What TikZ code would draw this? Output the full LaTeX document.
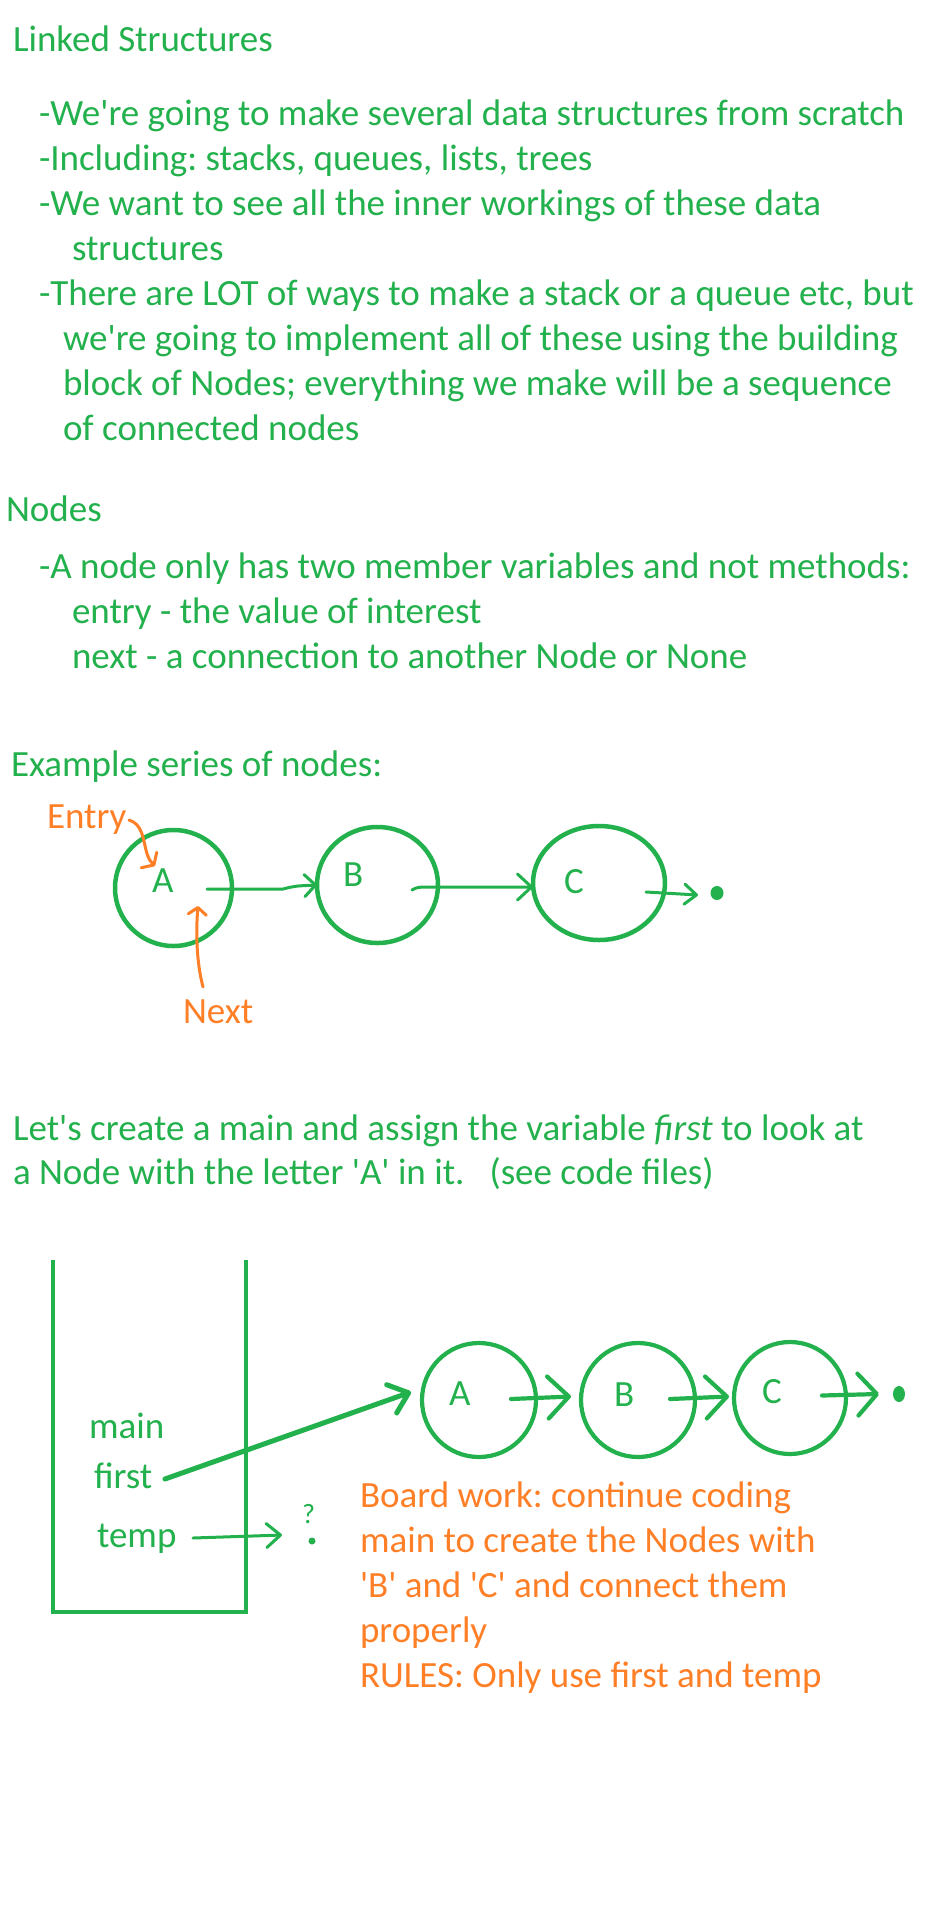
\documentclass[tikz,border=0pt]{standalone}
\usepackage{fontspec}
\setmainfont{Carlito}[Ligatures=TeXOff]
\usetikzlibrary{arrows.meta,shapes.geometric,calc}
\definecolor{pgreen}{RGB}{34,177,76}
\definecolor{porange}{RGB}{255,127,39}
\frenchspacing
\begin{document}
\begin{tikzpicture}[x=1pt,y=-1pt,
  txt/.style={anchor=base west,inner sep=0pt,outer sep=0pt,text=pgreen,font=\fontsize{37}{45}\selectfont},
  otxt/.style={txt,text=porange},
  smalltxt/.style={txt,font=\fontsize{28}{30}\selectfont},
  bubble/.style={draw=pgreen,ellipse,inner sep=0pt,outer sep=0pt,line width=4.5pt},
  bubbletwo/.style={draw=pgreen,ellipse,inner sep=0pt,outer sep=0pt,line width=4.2pt},
  blob/.style={fill=pgreen,ellipse,inner sep=0pt,outer sep=0pt},
  thinlink/.style={draw=pgreen,line width=3pt,line cap=round,line join=round},
  orangelink/.style={draw=porange,line width=3pt,line cap=round,line join=round},
  boldlink/.style={draw=pgreen,line width=4.2pt,line cap=round,line join=round},
  firstlink/.style={draw=pgreen,line width=5pt,line cap=round,line join=round},
  framebox/.style={draw=pgreen,line width=4.5pt}]
\fill[white] (0,0) rectangle (928,1928);
\useasboundingbox (0,0) rectangle (928,1928);

% ---- top text ----
\node[txt] (t1) at (13,51) {Linked Structures};
\node[txt] (t2) at (39,125) {-We're going to make several data structures from scratch};
\node[txt] (t3) at (39,170) {-Including: stacks, queues, lists, trees};
\node[txt] (t4) at (39,215) {-We want to see all the inner workings of these data};
\node[txt] (t5) at (72,260) {structures};
\node[txt] (t6) at (39,305) {-There are LOT of ways to make a stack or a queue etc, but};
\node[txt] (t7) at (63,350) {we're going to implement all of these using the building};
\node[txt] (t8) at (63,395) {block of Nodes; everything we make will be a sequence};
\node[txt] (t9) at (63,440) {of connected nodes};

\node[txt] (n1) at (6,521) {Nodes};
\node[txt] (n2) at (39,578) {-A node only has two member variables and not methods:};
\node[txt] (n3) at (72,623) {entry - the value of interest};
\node[txt] (n4) at (72,668) {next - a connection to another Node or None};

% ---- example ----
\node[txt] (ex) at (11,776) {Example series of nodes:};
\node[otxt] (entry) at (47,828) {Entry};
\node[otxt] (next) at (183,1023) {Next};

\node[bubble,minimum width=117pt,minimum height=116pt] (eA) at (173.5,888) {};
\node[bubble,minimum width=121pt,minimum height=116pt] (eB) at (377.5,885) {};
\node[bubble,minimum width=132pt,minimum height=114pt] (eC) at (599,883) {};
\node[txt] (lA) at (152,892) {A};
\node[txt] (lB) at (343,886) {B};
\node[txt] (lC) at (564,893) {C};
\node[blob,minimum width=13pt,minimum height=14pt] (dot1) at (717,893) {};

\draw[thinlink,-{Straight Barb[length=11pt,width=22pt,round]}]
  ($(eA.center)+(33.5,1)$) -- ($(eA.center)+(109.5,1)$) .. controls ($(eB.west)+(-22,1)$) .. (eB.west);
\draw[thinlink,-{Straight Barb[length=14pt,width=26pt,round]}]
  ($(eB.center)+(34.5,5)$) .. controls ($(eB.center)+(40,2)$) .. ($(eB.center)+(56,2)$) -- ($(eC.west)+(0,4)$);
\draw[thinlink,-{Straight Barb[length=12pt,width=20pt,round]}]
  ($(eC.center)+(47,9)$) -- ($(dot1.west)+(-12.5,2)$);

\coordinate (entryStart) at (129,820);
\coordinate (entryTip) at (155,866);
\draw[orangelink,-{Straight Barb[length=7pt,width=22pt,round]}]
  (entryStart) .. controls (142,824) and (143,838) .. (146,850) .. controls (148,858) and (150,861) .. (entryTip);
\coordinate (nextStart) at (203,987);
\coordinate (nextTip) at (198,906);
\draw[orangelink,-{Straight Barb[length=7pt,width=18pt,round]}]
  (nextStart) .. controls (196,960) and (196,930) .. (nextTip);

% ---- bottom section ----
\node[txt] (b1) at (13,1140) {Let's create a main and assign the variable \textit{first} to look at};
\node[txt] (b2) at (13,1184) {a Node with the letter 'A' in it.\ \ \ (see code files)};

\draw[framebox] (53,1260) -- (53,1612) -- (246,1612) -- (246,1260);
\node[txt] (vmain) at (89,1438) {main};
\node[txt] (vfirst) at (94,1488) {first};
\node[txt] (vtemp) at (97,1547) {temp};

\node[bubbletwo,minimum size=114pt] (fA) at (479,1400) {};
\node[bubbletwo,minimum size=114pt] (fB) at (638,1400) {};
\node[bubbletwo,minimum size=112pt] (fC) at (790,1398) {};
\node[txt] (mA) at (449,1405) {A};
\node[txt] (mB) at (614,1406) {B};
\node[txt] (mC) at (762,1403) {C};
\node[blob,minimum width=12pt,minimum height=16pt] (dot2) at (899,1394) {};

\draw[boldlink,-{Straight Barb[length=21pt,width=42pt,round]}]
  ($(fA.center)+(32,-1)$) -- ($(fB.west)+(-10,-3.5)$);
\draw[boldlink,-{Straight Barb[length=21pt,width=42pt,round]}]
  ($(fB.center)+(32,-1)$) -- ($(fC.west)+(-5,-1.5)$);
\draw[boldlink,-{Straight Barb[length=19pt,width=42pt,round]}]
  ($(fC.center)+(32,-2.5)$) -- ($(dot2.west)+(-14,0)$);

\coordinate (firstStart) at (165,1479);
\coordinate (firstTip) at (411,1392);
\draw[firstlink,-{Straight Barb[length=18pt,width=30pt,round]}] (firstStart) -- (firstTip);

\node[smalltxt] (qm) at (302,1523) {?};
\node[blob,minimum size=7pt] (qdot) at (312,1541) {};
\coordinate (tempStart) at (193,1538);
\draw[thinlink,-{Straight Barb[length=14pt,width=24pt,round]}] (tempStart) -- ($(qm.base west)+(-20,12)$);

\node[otxt] (o1) at (360,1507) {Board work: continue coding};
\node[otxt] (o2) at (360,1552) {main to create the Nodes with};
\node[otxt] (o3) at (360,1597) {'B' and 'C' and connect them};
\node[otxt] (o4) at (360,1642) {properly};
\node[otxt] (o5) at (360,1687) {RULES: Only use first and temp};
\end{tikzpicture}
\end{document}
